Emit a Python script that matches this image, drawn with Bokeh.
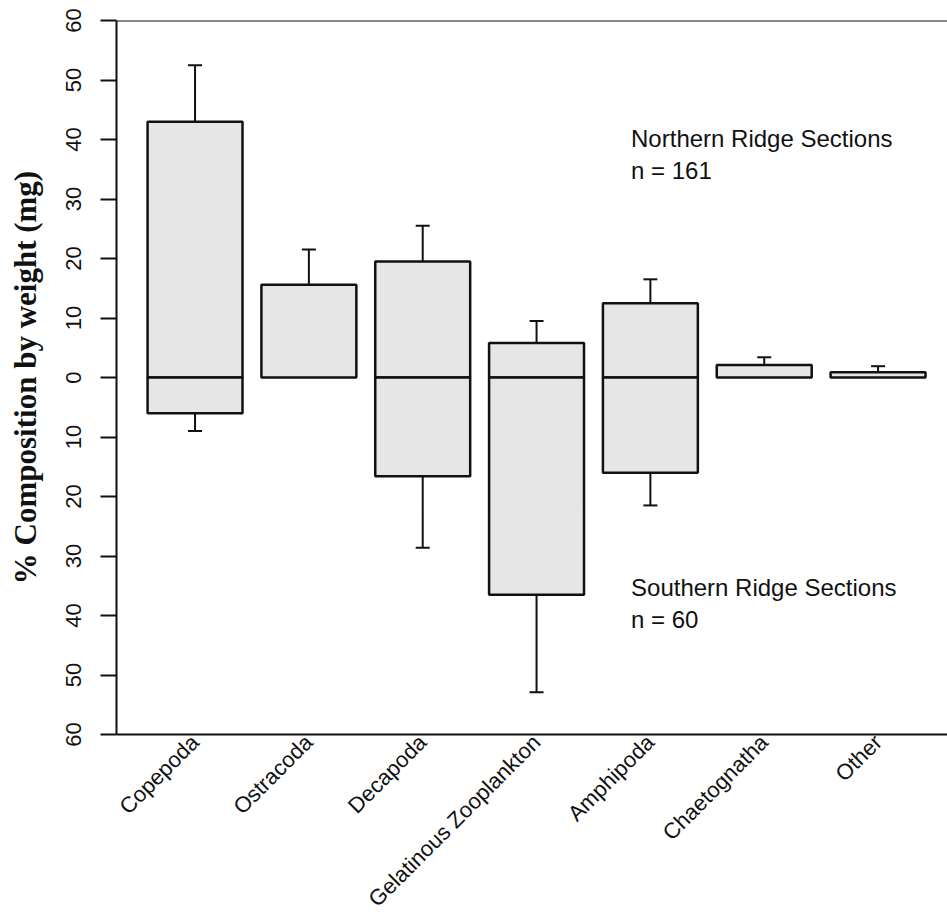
import math
from bokeh.plotting import figure
from bokeh.models import Range1d, FixedTicker, Whisker, TeeHead, Span, Label, ColumnDataSource
from bokeh.embed import file_html
from bokeh.resources import INLINE

categories = ["Copepoda", "Ostracoda", "Decapoda", "Gelatinous Zooplankton",
              "Amphipoda", "Chaetognatha", "Other"]
north_mean = [43.0, 15.6, 19.5, 5.8, 12.5, 2.1, 0.9]
north_upper = [52.5, 21.5, 25.5, 9.5, 16.5, 3.4, 1.9]
south_mean = [6.0, 0.0, 16.6, 36.5, 16.0, 0.0, 0.0]
south_lower = [9.0, 0.0, 28.6, 52.9, 21.5, 0.0, 0.0]
y_ticks = [-60, -50, -40, -30, -20, -10, 0, 10, 20, 30, 40, 50, 60]
y_tick_labels = ["60", "50", "40", "30", "20", "10", "0", "10", "20", "30", "40", "50", "60"]
north_text = ["Northern Ridge Sections", "n = 161"]
south_text = ["Southern Ridge Sections", "n = 60"]

xs = list(range(len(categories)))

p = figure(width=947, height=924, output_backend="svg", toolbar_location=None,
           x_range=Range1d(-0.69, 6.61), y_range=Range1d(-60, 60),
           min_border_left=116, min_border_top=20, min_border_right=0,
           min_border_bottom=190)
p.outline_line_color = None
p.xgrid.visible = False
p.ygrid.visible = False
p.background_fill_color = "white"

bar_w = 0.834
fill = "#e6e6e6"
north_src = ColumnDataSource(dict(x=xs, top=north_mean, bottom=[0] * len(xs), up=north_upper))
p.vbar(x="x", top="top", bottom="bottom", width=bar_w, source=north_src,
       fill_color=fill, line_color="#111111", line_width=2.5)

sx = [x for x, s in zip(xs, south_mean) if s > 0]
s_mean = [-s for s in south_mean if s > 0]
s_low = [-l for s, l in zip(south_mean, south_lower) if s > 0]
south_src = ColumnDataSource(dict(x=sx, top=[0] * len(sx), bottom=s_mean, low=s_low))
p.vbar(x="x", top="top", bottom="bottom", width=bar_w, source=south_src,
       fill_color=fill, line_color="#111111", line_width=2.5)

wn = Whisker(base="x", lower="top", upper="up", source=north_src,
             line_color="#111111", line_width=2,
             upper_head=TeeHead(size=14, line_width=2, line_color="#111111"),
             lower_head=None)
ws = Whisker(base="x", lower="low", upper="bottom", source=south_src,
             line_color="#111111", line_width=2,
             lower_head=TeeHead(size=14, line_width=2, line_color="#111111"),
             upper_head=None)
p.add_layout(wn)
p.add_layout(ws)

p.add_layout(Span(location=60, dimension="width", line_color="#111111", line_width=2))

sans = "Liberation Sans"
for txt, yy in zip(north_text, [40.2, 34.8]):
    p.add_layout(Label(x=3.83, y=yy, text=txt, text_font=sans, text_font_size="24px",
                       text_color="#111111", text_baseline="alphabetic"))
for txt, yy in zip(south_text, [-35.3, -40.7]):
    p.add_layout(Label(x=3.83, y=yy, text=txt, text_font=sans, text_font_size="24px",
                       text_color="#111111", text_baseline="alphabetic"))

# x axis
xa = p.xaxis[0]
xa.ticker = FixedTicker(ticks=xs)
xa.major_label_overrides = {x: c for x, c in zip(xs, categories)}
xa.major_label_orientation = math.pi / 4
xa.major_tick_out = 0
xa.major_tick_in = 0
xa.minor_tick_out = 0
xa.minor_tick_in = 0
xa.axis_line_width = 2
xa.axis_line_color = "#111111"
xa.major_label_text_font = sans
xa.major_label_text_font_size = "22px"
xa.major_label_text_color = "#111111"
xa.major_label_standoff = 4

# y axis
ya = p.yaxis[0]
ya.ticker = FixedTicker(ticks=y_ticks)
ya.major_label_overrides = {t: l for t, l in zip(y_ticks, y_tick_labels)}
ya.major_label_orientation = "vertical"
ya.major_tick_out = 16
ya.major_tick_in = 0
ya.minor_tick_out = 0
ya.minor_tick_in = 0
ya.major_tick_line_width = 2
ya.major_tick_line_color = "#111111"
ya.axis_line_width = 2
ya.axis_line_color = "#111111"
ya.major_label_text_font = sans
ya.major_label_text_font_size = "22px"
ya.major_label_text_color = "#111111"
ya.major_label_standoff = 20
ya.axis_label = "% Composition by weight (mg)"
ya.axis_label_text_font = "Liberation Serif"
ya.axis_label_text_font_style = "bold"
ya.axis_label_text_font_size = "31px"
ya.axis_label_text_color = "#111111"
ya.axis_label_standoff = 20

open("out.html", "w").write(file_html(p, INLINE))
